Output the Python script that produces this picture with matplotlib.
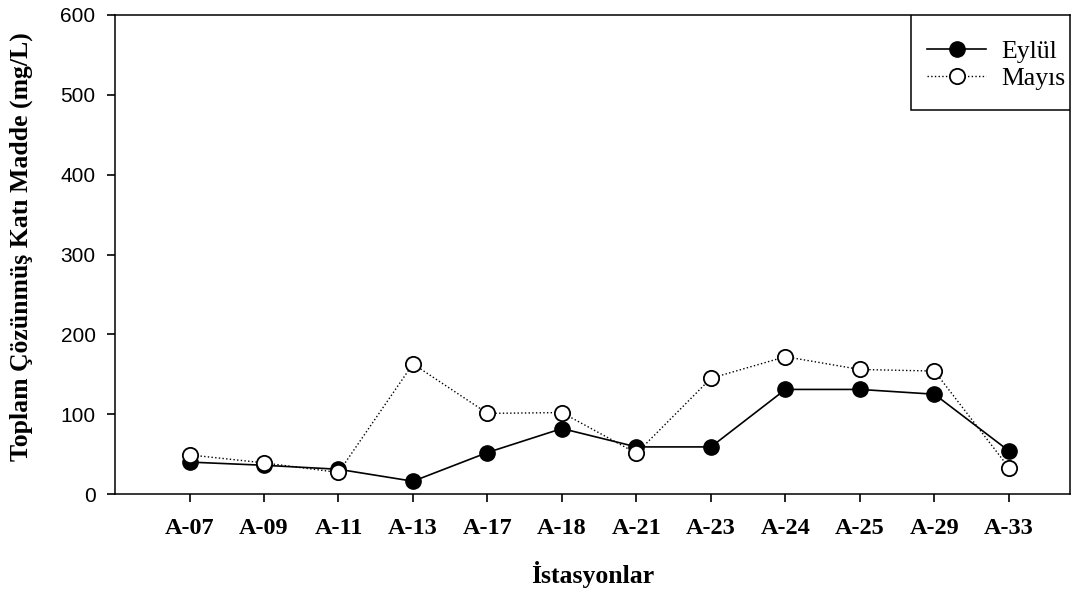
import matplotlib.pyplot as plt
from matplotlib.patches import Rectangle
import numpy as np

stations = ['A-07', 'A-09', 'A-11', 'A-13', 'A-17', 'A-18',
            'A-21', 'A-23', 'A-24', 'A-25', 'A-29', 'A-33']
eylul = [40, 36, 31, 16, 52, 82, 59, 59, 131, 131, 125, 54]
mayis = [49, 39, 27, 163, 101, 102, 51, 145, 172, 156, 154, 33]

serif = 'Liberation Serif'
sans = 'Liberation Sans'

fig = plt.figure(figsize=(10.84, 5.97), dpi=100)
ax = fig.add_axes([0.1061, 0.1725, 0.881, 0.8024])

x = np.arange(1, len(stations) + 1)
ax.plot(x, eylul, '-', color='black', lw=1.2, marker='o', ms=11,
        mfc='black', mec='black', label='Eylül', zorder=3)
ax.plot(x, mayis, ':', color='black', lw=1.0, marker='o', ms=11,
        mfc='white', mec='black', mew=1.3, label='Mayıs', zorder=4)

ax.set_xlim(0, 12.82)
ax.set_ylim(0, 600)
ax.set_yticks(range(0, 601, 100))
ax.set_xticks(x)
ax.set_xticklabels(stations, fontfamily=serif, fontweight='bold', fontsize=17.5)
for lab in ax.get_yticklabels():
    lab.set_fontfamily(sans)
    lab.set_fontsize(15)
ax.tick_params(direction='out', length=6, width=1.2, pad=8)
ax.tick_params(axis='x', pad=11)
for sp in ax.spines.values():
    sp.set_linewidth(1.1)

ax.set_xlabel('İstasyonlar', fontfamily=serif, fontweight='bold',
              fontsize=18.5, labelpad=16)
ax.set_ylabel('Toplam Çözünmüş Katı Madde (mg/L)', fontfamily=serif,
              fontweight='bold', fontsize=18.5)
ax.yaxis.set_label_coords(-0.086, 0.517)

# legend box hugs the top-right corner, entries sit slightly left of centre
ax.add_patch(Rectangle((0.8335, 0.8017), 0.1665, 0.1983, transform=ax.transAxes,
                       facecolor='white', edgecolor='black', lw=1.1, zorder=5))
leg = ax.legend(loc='center', bbox_to_anchor=(0.923, 0.8956), frameon=False,
                prop={'family': serif, 'size': 18.5}, handlelength=2.3,
                handletextpad=0.6, borderpad=0, labelspacing=0.15)
leg.set_zorder(6)

fig.savefig('out.png', dpi=100)
